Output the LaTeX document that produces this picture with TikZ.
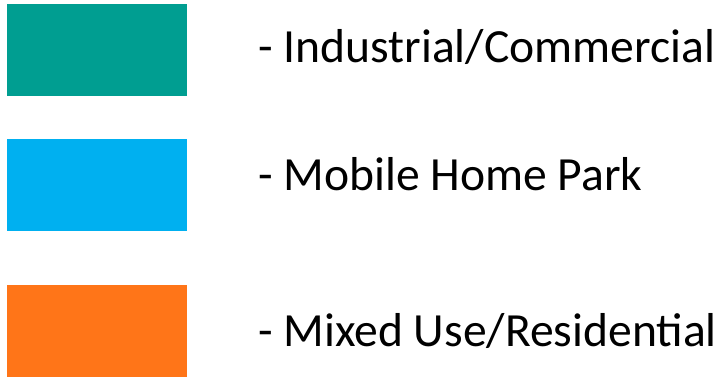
\documentclass[tikz,border=0pt]{standalone}
\usepackage{fontspec}
\setmainfont{Carlito}
\definecolor{teal1}{HTML}{009E91}
\definecolor{blue1}{HTML}{00B0F0}
\definecolor{orange1}{HTML}{FF7518}
\begin{document}
\begin{tikzpicture}[x=1pt,y=-1pt,
  swatch/.style={fill=#1,draw=none},
  lbl/.style={anchor=base west,inner sep=0pt,font=\fontsize{47.6}{58}\selectfont}]
\useasboundingbox (0,0) rectangle (725,378);
\fill[swatch=teal1] (7,4) rectangle (187,96);
\fill[swatch=blue1] (7,139) rectangle (187,231);
\fill[swatch=orange1] (7,285) rectangle (187,377);
\node[lbl] (l1) at (258,62) {- Industrial/Commercial};
\node[lbl] (l2) at (258,190) {- Mobile Home Park};
\node[lbl] (l3) at (258,346) {- Mixed Use/Residential};
\end{tikzpicture}
\end{document}
